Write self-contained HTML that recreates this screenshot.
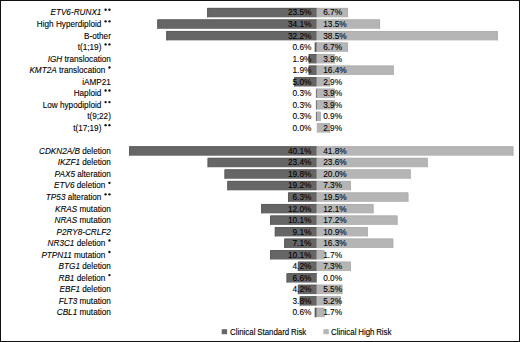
<!DOCTYPE html>
<html><head><meta charset="utf-8"><style>
html,body{margin:0;padding:0;background:#fff;}
body{width:520px;height:342px;position:relative;overflow:hidden;font-family:"Liberation Sans",sans-serif;font-size:8.2px;color:#000;-webkit-text-stroke:0.1px #000;}
.lab,.pl,.pr{position:absolute;height:9.4px;line-height:9.4px;white-space:nowrap;}
.lab{right:409.10px;text-align:right;}
.pl{right:208.60px;text-align:right;font-size:8.3px;}
.pr{left:323.20px;font-size:8.3px;}
.sp1{display:inline-block;width:5.5px;}
.sp2{display:inline-block;width:9.5px;}
.lg{position:absolute;top:327.9px;height:9px;line-height:9px;white-space:nowrap;font-size:8.2px;word-spacing:-0.5px;transform:scaleX(0.965);transform-origin:0 0;-webkit-text-stroke:0.12px #000;}
</style></head><body>
<svg width="520" height="342" style="position:absolute;left:0;top:0">
<rect x="0.5" y="0.5" width="519" height="341" fill="none" stroke="#111"/>
<rect x="207.15" y="7.90" width="109.65" height="9.4" fill="#666666"/>
<path d="M207.65 17.30V8.40H316.80" stroke="#5c5c5c" fill="none"/>
<rect x="316.80" y="7.90" width="31.26" height="9.4" fill="#b5b5b5"/>
<path d="M316.80 8.40H347.56V17.30" stroke="#afafaf" fill="none"/>
<rect x="157.33" y="19.43" width="159.47" height="9.4" fill="#666666"/>
<path d="M157.83 28.83V19.93H316.80" stroke="#5c5c5c" fill="none"/>
<rect x="316.80" y="19.43" width="63.28" height="9.4" fill="#b5b5b5"/>
<path d="M316.80 19.93H379.58V28.83" stroke="#afafaf" fill="none"/>
<rect x="166.26" y="30.97" width="150.54" height="9.4" fill="#666666"/>
<path d="M166.76 40.37V31.47H316.80" stroke="#5c5c5c" fill="none"/>
<rect x="316.80" y="30.97" width="181.04" height="9.4" fill="#b5b5b5"/>
<path d="M316.80 31.47H497.34V40.37" stroke="#afafaf" fill="none"/>
<rect x="314.78" y="42.50" width="2.02" height="9.4" fill="#666666"/>
<path d="M315.28 51.90V43.00H316.80" stroke="#5c5c5c" fill="none"/>
<rect x="316.80" y="42.50" width="31.26" height="9.4" fill="#b5b5b5"/>
<path d="M316.80 43.00H347.56V51.90" stroke="#afafaf" fill="none"/>
<rect x="308.67" y="54.04" width="8.13" height="9.4" fill="#666666"/>
<path d="M309.17 63.44V54.54H316.80" stroke="#5c5c5c" fill="none"/>
<rect x="316.80" y="54.04" width="18.07" height="9.4" fill="#b5b5b5"/>
<path d="M316.80 54.54H334.37V63.44" stroke="#afafaf" fill="none"/>
<rect x="308.67" y="65.57" width="8.13" height="9.4" fill="#666666"/>
<path d="M309.17 74.97V66.07H316.80" stroke="#5c5c5c" fill="none"/>
<rect x="316.80" y="65.57" width="76.94" height="9.4" fill="#b5b5b5"/>
<path d="M316.80 66.07H393.24V74.97" stroke="#afafaf" fill="none"/>
<rect x="294.10" y="77.10" width="22.70" height="9.4" fill="#666666"/>
<path d="M294.60 86.50V77.60H316.80" stroke="#5c5c5c" fill="none"/>
<rect x="316.80" y="77.10" width="13.36" height="9.4" fill="#b5b5b5"/>
<path d="M316.80 77.60H329.66V86.50" stroke="#afafaf" fill="none"/>
<rect x="315.9" y="88.64" width="1" height="9.4" fill="#5c5c5c"/>
<rect x="316.80" y="88.64" width="18.07" height="9.4" fill="#b5b5b5"/>
<path d="M316.80 89.14H334.37V98.04" stroke="#afafaf" fill="none"/>
<rect x="315.9" y="100.17" width="1" height="9.4" fill="#5c5c5c"/>
<rect x="316.80" y="100.17" width="18.07" height="9.4" fill="#b5b5b5"/>
<path d="M316.80 100.67H334.37V109.57" stroke="#afafaf" fill="none"/>
<rect x="315.9" y="111.71" width="1" height="9.4" fill="#5c5c5c"/>
<rect x="316.80" y="111.71" width="3.94" height="9.4" fill="#b5b5b5"/>
<path d="M316.80 112.21H320.24V121.11" stroke="#afafaf" fill="none"/>
<rect x="316.80" y="123.24" width="13.36" height="9.4" fill="#b5b5b5"/>
<path d="M316.80 123.74H329.66V132.64" stroke="#afafaf" fill="none"/>
<rect x="129.13" y="146.31" width="187.67" height="9.4" fill="#666666"/>
<path d="M129.63 155.71V146.81H316.80" stroke="#5c5c5c" fill="none"/>
<rect x="316.80" y="146.31" width="196.58" height="9.4" fill="#b5b5b5"/>
<path d="M316.80 146.81H512.88V155.71" stroke="#afafaf" fill="none"/>
<rect x="207.62" y="157.84" width="109.18" height="9.4" fill="#666666"/>
<path d="M208.12 167.24V158.34H316.80" stroke="#5c5c5c" fill="none"/>
<rect x="316.80" y="157.84" width="110.86" height="9.4" fill="#b5b5b5"/>
<path d="M316.80 158.34H427.16V167.24" stroke="#afafaf" fill="none"/>
<rect x="224.54" y="169.38" width="92.26" height="9.4" fill="#666666"/>
<path d="M225.04 178.78V169.88H316.80" stroke="#5c5c5c" fill="none"/>
<rect x="316.80" y="169.38" width="93.90" height="9.4" fill="#b5b5b5"/>
<path d="M316.80 169.88H410.20V178.78" stroke="#afafaf" fill="none"/>
<rect x="227.36" y="180.91" width="89.44" height="9.4" fill="#666666"/>
<path d="M227.86 190.31V181.41H316.80" stroke="#5c5c5c" fill="none"/>
<rect x="316.80" y="180.91" width="34.08" height="9.4" fill="#b5b5b5"/>
<path d="M316.80 181.41H350.38V190.31" stroke="#afafaf" fill="none"/>
<rect x="287.99" y="192.44" width="28.81" height="9.4" fill="#666666"/>
<path d="M288.49 201.84V192.94H316.80" stroke="#5c5c5c" fill="none"/>
<rect x="316.80" y="192.44" width="91.55" height="9.4" fill="#b5b5b5"/>
<path d="M316.80 192.94H407.85V201.84" stroke="#afafaf" fill="none"/>
<rect x="261.20" y="203.98" width="55.60" height="9.4" fill="#666666"/>
<path d="M261.70 213.38V204.48H316.80" stroke="#5c5c5c" fill="none"/>
<rect x="316.80" y="203.98" width="56.69" height="9.4" fill="#b5b5b5"/>
<path d="M316.80 204.48H372.99V213.38" stroke="#afafaf" fill="none"/>
<rect x="270.13" y="215.51" width="46.67" height="9.4" fill="#666666"/>
<path d="M270.63 224.91V216.01H316.80" stroke="#5c5c5c" fill="none"/>
<rect x="316.80" y="215.51" width="80.71" height="9.4" fill="#b5b5b5"/>
<path d="M316.80 216.01H397.01V224.91" stroke="#afafaf" fill="none"/>
<rect x="274.83" y="227.05" width="41.97" height="9.4" fill="#666666"/>
<path d="M275.33 236.45V227.55H316.80" stroke="#5c5c5c" fill="none"/>
<rect x="316.80" y="227.05" width="51.04" height="9.4" fill="#b5b5b5"/>
<path d="M316.80 227.55H367.34V236.45" stroke="#afafaf" fill="none"/>
<rect x="284.23" y="238.58" width="32.57" height="9.4" fill="#666666"/>
<path d="M284.73 247.98V239.08H316.80" stroke="#5c5c5c" fill="none"/>
<rect x="316.80" y="238.58" width="76.47" height="9.4" fill="#b5b5b5"/>
<path d="M316.80 239.08H392.77V247.98" stroke="#afafaf" fill="none"/>
<rect x="270.13" y="250.11" width="46.67" height="9.4" fill="#666666"/>
<path d="M270.63 259.51V250.61H316.80" stroke="#5c5c5c" fill="none"/>
<rect x="316.80" y="250.11" width="7.71" height="9.4" fill="#b5b5b5"/>
<path d="M316.80 250.61H324.01V259.51" stroke="#afafaf" fill="none"/>
<rect x="297.86" y="261.65" width="18.94" height="9.4" fill="#666666"/>
<path d="M298.36 271.05V262.15H316.80" stroke="#5c5c5c" fill="none"/>
<rect x="316.80" y="261.65" width="34.08" height="9.4" fill="#b5b5b5"/>
<path d="M316.80 262.15H350.38V271.05" stroke="#afafaf" fill="none"/>
<rect x="286.58" y="273.18" width="30.22" height="9.4" fill="#666666"/>
<path d="M287.08 282.58V273.68H316.80" stroke="#5c5c5c" fill="none"/>
<rect x="297.86" y="284.72" width="18.94" height="9.4" fill="#666666"/>
<path d="M298.36 294.12V285.22H316.80" stroke="#5c5c5c" fill="none"/>
<rect x="316.80" y="284.72" width="25.60" height="9.4" fill="#b5b5b5"/>
<path d="M316.80 285.22H341.90V294.12" stroke="#afafaf" fill="none"/>
<rect x="299.74" y="296.25" width="17.06" height="9.4" fill="#666666"/>
<path d="M300.24 305.65V296.75H316.80" stroke="#5c5c5c" fill="none"/>
<rect x="316.80" y="296.25" width="24.19" height="9.4" fill="#b5b5b5"/>
<path d="M316.80 296.75H340.49V305.65" stroke="#afafaf" fill="none"/>
<rect x="314.78" y="307.78" width="2.02" height="9.4" fill="#666666"/>
<path d="M315.28 317.18V308.28H316.80" stroke="#5c5c5c" fill="none"/>
<rect x="316.80" y="307.78" width="7.71" height="9.4" fill="#b5b5b5"/>
<path d="M316.80 308.28H324.01V317.18" stroke="#afafaf" fill="none"/>
<g fill="#111"><circle cx="105.60" cy="9.80" r="1.18"/><circle cx="109.45" cy="9.80" r="1.18"/><circle cx="105.60" cy="21.33" r="1.18"/><circle cx="109.45" cy="21.33" r="1.18"/><circle cx="105.60" cy="44.40" r="1.18"/><circle cx="109.45" cy="44.40" r="1.18"/><circle cx="109.45" cy="67.47" r="1.18"/><circle cx="105.60" cy="90.54" r="1.18"/><circle cx="109.45" cy="90.54" r="1.18"/><circle cx="105.60" cy="102.07" r="1.18"/><circle cx="109.45" cy="102.07" r="1.18"/><circle cx="105.60" cy="125.14" r="1.18"/><circle cx="109.45" cy="125.14" r="1.18"/><circle cx="109.45" cy="182.81" r="1.18"/><circle cx="105.60" cy="194.34" r="1.18"/><circle cx="109.45" cy="194.34" r="1.18"/><circle cx="109.45" cy="240.48" r="1.18"/><circle cx="109.45" cy="252.01" r="1.18"/><circle cx="109.45" cy="275.08" r="1.18"/></g>
<rect x="221.7" y="329.2" width="5.4" height="5" fill="#666666"/>
<rect x="323.4" y="329.2" width="5.4" height="5" fill="#b5b5b5"/>
</svg>
<div class="lab" style="top:8px"><i>ETV6-RUNX1</i><span class="sp2"></span></div>
<div class="pl" style="top:8px">23.5%</div>
<div class="pr" style="top:8px">6.7%</div>
<div class="lab" style="top:20px">High Hyperdiploid<span class="sp2"></span></div>
<div class="pl" style="top:20px">34.1%</div>
<div class="pr" style="top:20px">13.5%</div>
<div class="lab" style="top:32px">B-other</div>
<div class="pl" style="top:32px">32.2%</div>
<div class="pr" style="top:32px">38.5%</div>
<div class="lab" style="top:43px">t(1;19)<span class="sp2"></span></div>
<div class="pl" style="top:43px">0.6%</div>
<div class="pr" style="top:43px">6.7%</div>
<div class="lab" style="top:55px"><i>IGH</i> translocation</div>
<div class="pl" style="top:55px">1.9%</div>
<div class="pr" style="top:55px">3.9%</div>
<div class="lab" style="top:66px"><i>KMT2A</i> translocation<span class="sp1"></span></div>
<div class="pl" style="top:66px">1.9%</div>
<div class="pr" style="top:66px">16.4%</div>
<div class="lab" style="top:78px">iAMP21</div>
<div class="pl" style="top:78px">5.0%</div>
<div class="pr" style="top:78px">2.9%</div>
<div class="lab" style="top:89px">Haploid<span class="sp2"></span></div>
<div class="pl" style="top:89px">0.3%</div>
<div class="pr" style="top:89px">3.9%</div>
<div class="lab" style="top:101px">Low hypodiploid<span class="sp2"></span></div>
<div class="pl" style="top:101px">0.3%</div>
<div class="pr" style="top:101px">3.9%</div>
<div class="lab" style="top:112px">t(9;22)</div>
<div class="pl" style="top:112px">0.3%</div>
<div class="pr" style="top:112px">0.9%</div>
<div class="lab" style="top:124px">t(17;19)<span class="sp2"></span></div>
<div class="pl" style="top:124px">0.0%</div>
<div class="pr" style="top:124px">2.9%</div>
<div class="lab" style="top:147px"><i>CDKN2A/B</i> deletion</div>
<div class="pl" style="top:147px">40.1%</div>
<div class="pr" style="top:147px">41.8%</div>
<div class="lab" style="top:158px"><i>IKZF1</i> deletion</div>
<div class="pl" style="top:158px">23.4%</div>
<div class="pr" style="top:158px">23.6%</div>
<div class="lab" style="top:170px"><i>PAX5</i> alteration</div>
<div class="pl" style="top:170px">19.8%</div>
<div class="pr" style="top:170px">20.0%</div>
<div class="lab" style="top:181px"><i>ETV6</i> deletion<span class="sp1"></span></div>
<div class="pl" style="top:181px">19.2%</div>
<div class="pr" style="top:181px">7.3%</div>
<div class="lab" style="top:193px"><i>TP53</i> alteration<span class="sp2"></span></div>
<div class="pl" style="top:193px">6.3%</div>
<div class="pr" style="top:193px">19.5%</div>
<div class="lab" style="top:205px"><i>KRAS</i> mutation</div>
<div class="pl" style="top:205px">12.0%</div>
<div class="pr" style="top:205px">12.1%</div>
<div class="lab" style="top:216px"><i>NRAS</i> mutation</div>
<div class="pl" style="top:216px">10.1%</div>
<div class="pr" style="top:216px">17.2%</div>
<div class="lab" style="top:228px"><i>P2RY8-CRLF2</i></div>
<div class="pl" style="top:228px">9.1%</div>
<div class="pr" style="top:228px">10.9%</div>
<div class="lab" style="top:239px"><i>NR3C1</i> deletion<span class="sp1"></span></div>
<div class="pl" style="top:239px">7.1%</div>
<div class="pr" style="top:239px">16.3%</div>
<div class="lab" style="top:251px"><i>PTPN11</i> mutation<span class="sp1"></span></div>
<div class="pl" style="top:251px">10.1%</div>
<div class="pr" style="top:251px">1.7%</div>
<div class="lab" style="top:262px"><i>BTG1</i> deletion</div>
<div class="pl" style="top:262px">4.2%</div>
<div class="pr" style="top:262px">7.3%</div>
<div class="lab" style="top:274px"><i>RB1</i> deletion<span class="sp1"></span></div>
<div class="pl" style="top:274px">6.6%</div>
<div class="pr" style="top:274px">0.0%</div>
<div class="lab" style="top:285px"><i>EBF1</i> deletion</div>
<div class="pl" style="top:285px">4.2%</div>
<div class="pr" style="top:285px">5.5%</div>
<div class="lab" style="top:297px"><i>FLT3</i> mutation</div>
<div class="pl" style="top:297px">3.8%</div>
<div class="pr" style="top:297px">5.2%</div>
<div class="lab" style="top:308px"><i>CBL1</i> mutation</div>
<div class="pl" style="top:308px">0.6%</div>
<div class="pr" style="top:308px">1.7%</div>
<div class="lg" style="left:230px">Clinical Standard Risk</div>
<div class="lg" style="left:331.2px">Clinical High Risk</div>
</body></html>
